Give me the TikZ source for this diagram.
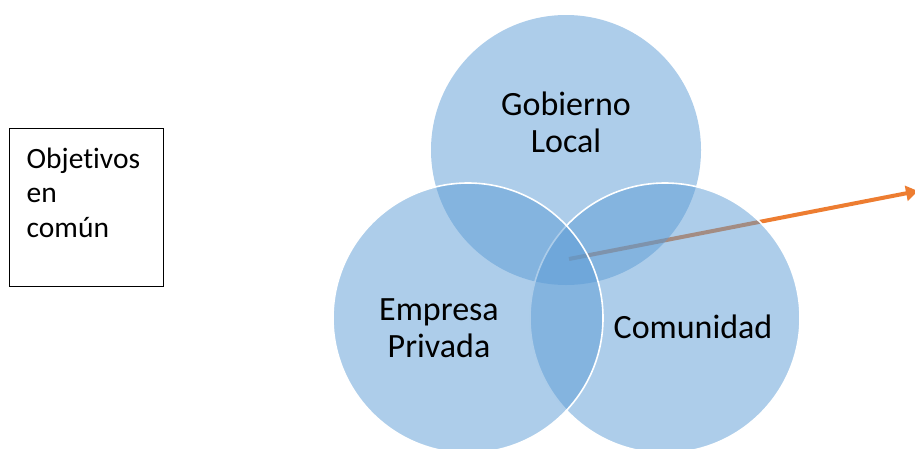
\documentclass[tikz,border=0pt]{standalone}
\usepackage{fontspec}
\setmainfont{Carlito}[Ligatures=CommonOff]
\usetikzlibrary{arrows.meta}
\definecolor{vennblue}{HTML}{5B9BD5}
\definecolor{arroworange}{HTML}{ED7D31}
\begin{document}
\begin{tikzpicture}[x=1pt,y=-1pt,
  venn/.style={circle, minimum size=270pt, inner sep=0pt, outer sep=0pt, fill=vennblue, fill opacity=0.5},
  vennedge/.style={draw=white, line width=1.6pt},
  vlabel/.style={font=\fontsize{34}{37}\selectfont, align=center, anchor=base, inner sep=0pt, text=black},
  framebox/.style={draw=black, line width=1.3pt, minimum width=154pt, minimum height=158.5pt, inner sep=0pt},
  boxtext/.style={font=\fontsize{29.5}{34.5}\selectfont, align=left, anchor=base west, inner sep=0pt},
  pointer/.style={draw=arroworange, line width=4pt, -{Triangle[length=12pt,width=15pt]}}]
\useasboundingbox (0,0) rectangle (915,448);
% arrow (under the circles)
\coordinate (arrowstart) at (569,259);
\coordinate (arrowend) at (918,191);
\draw[pointer] (arrowstart) -- (arrowend);
% circles
\node[venn] (gobierno) at (566,150) {};
\node[venn, vennedge] (comunidad) at (665,318) {};
\node[venn, vennedge] (empresa) at (468,318) {};
% labels (anchor = baseline of last line)
\node[vlabel] (gobiernotxt) at (566,152) {Gobierno\\Local};
\node[vlabel] (empresatxt) at (439,357) {Empresa\\Privada};
\node[vlabel] (comunidadtxt) at (693,338) {Comunidad};
% box
\node[framebox] (objbox) at (86.5,207.5) {};
\node[boxtext] (objtxt) at (26.5,237) {Objetivos\\en\\común};
\end{tikzpicture}
\end{document}
